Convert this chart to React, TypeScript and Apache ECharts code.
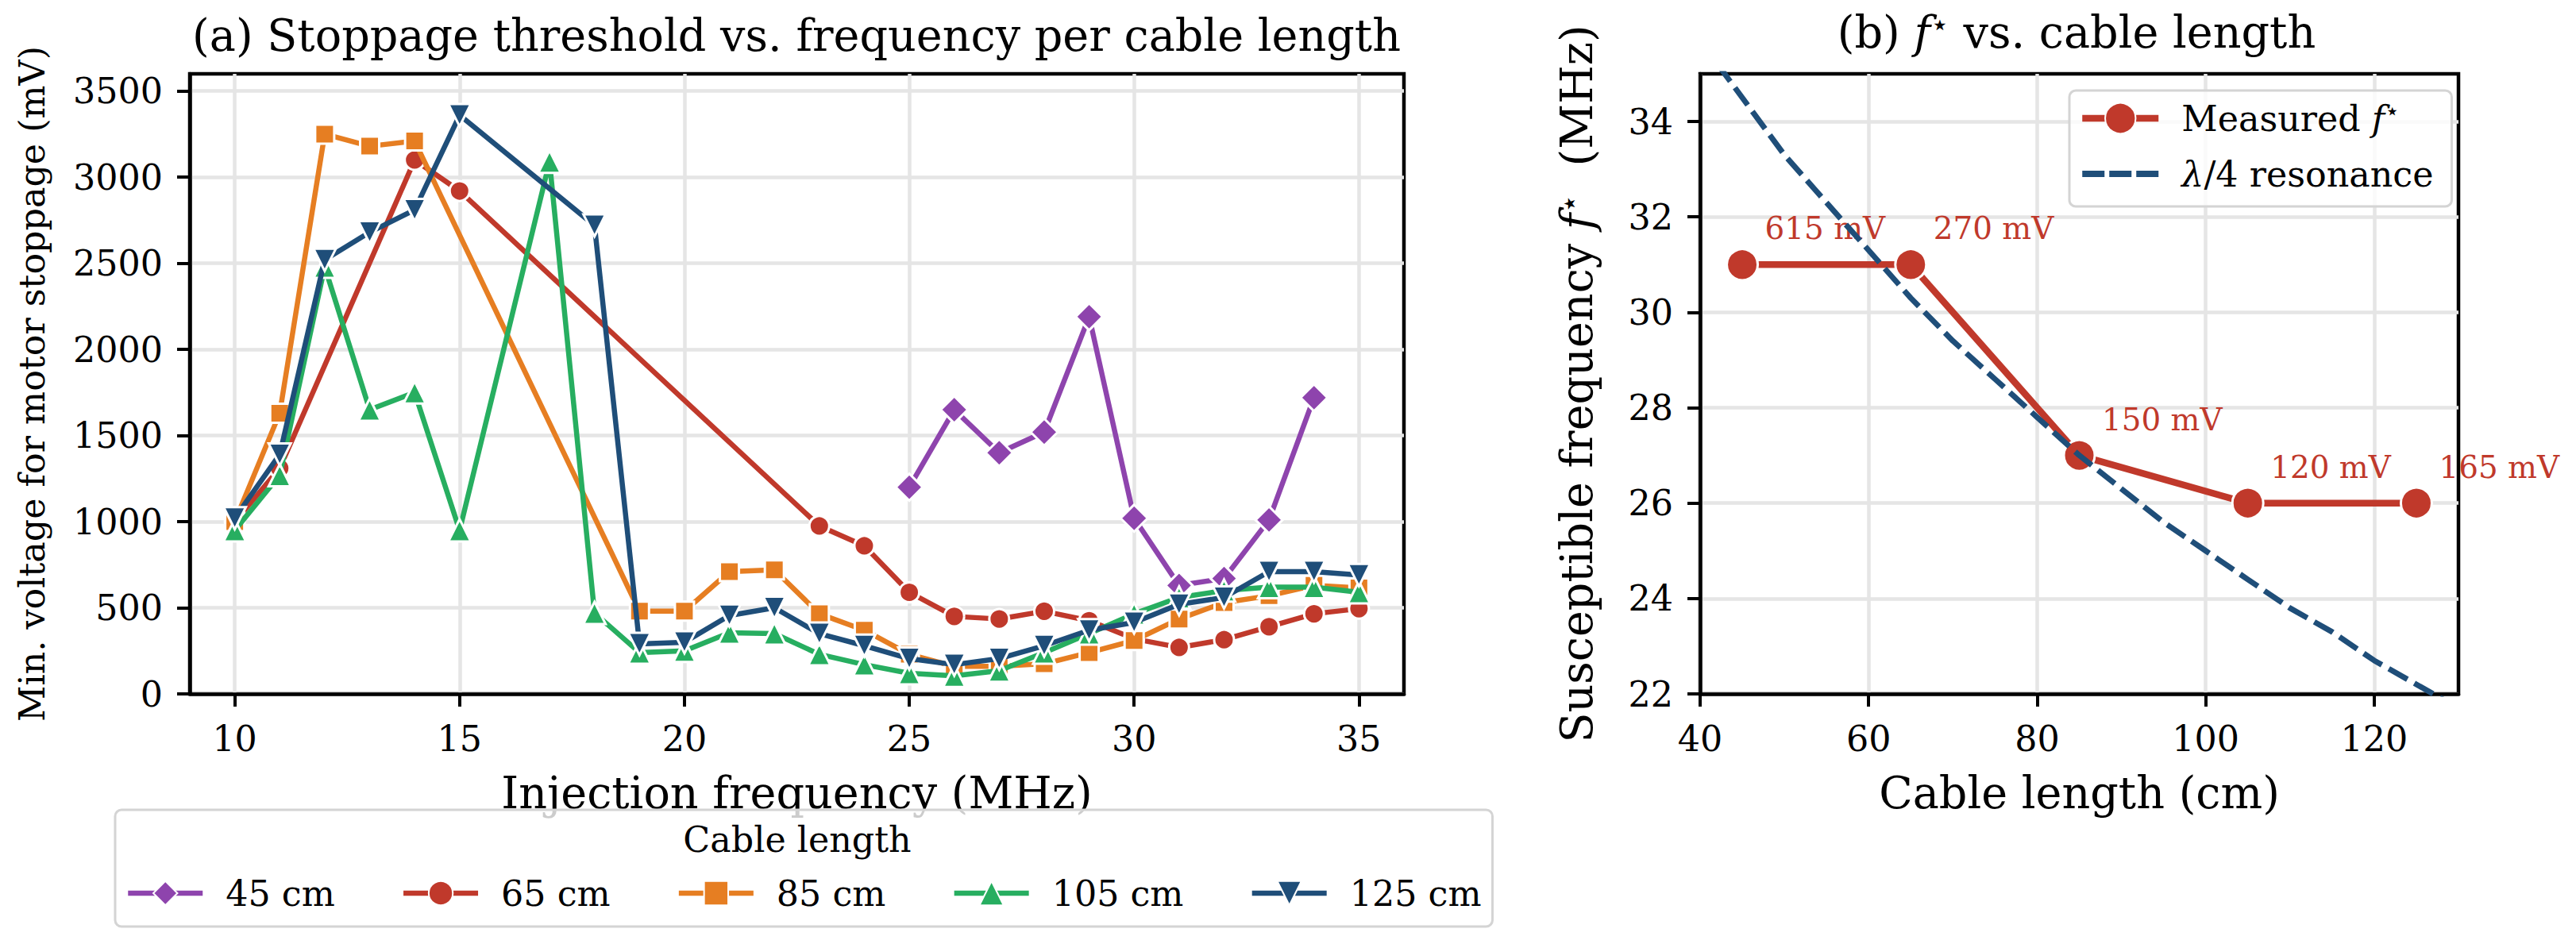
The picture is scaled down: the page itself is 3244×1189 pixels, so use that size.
import React, { useEffect, useRef } from 'react';
import * as echarts from 'echarts';

const FONT = "'DejaVu Serif', serif";
const MATH_FONT = "'DejaVu Sans', 'DejaVu Serif', sans-serif";

// ---------- Panel (a): stoppage threshold vs. injection frequency ----------
const freqMHz = [10, 11, 12, 13, 14, 15, 16, 17, 18, 19, 20, 21, 22, 23, 24, 25, 26, 27, 28, 29, 30, 31, 32, 33, 34, 35];
const cableLabels = ['45 cm', '65 cm', '85 cm', '105 cm', '125 cm'];
const n = null;
const v45cm = [n, n, n, n, n, n, n, n, n, n, n, n, n, n, n, 1200, 1650, 1400, 1520, 2190, 1020, 630, 670, 1010, 1720, n];
const v65cm = [1000, 1310, n, n, 3100, 2920, n, n, n, n, n, n, n, 975, 860, 590, 450, 435, 480, 425, 320, 270, 315, 390, 465, 495];
const v85cm = [1000, 1630, 3250, 3180, 3210, n, n, n, n, 480, 480, 710, 720, 465, 370, 230, 160, 160, 175, 240, 310, 435, 530, 570, 630, 615];
const v105cm = [950, 1270, 2480, 1650, 1750, 950, n, 3090, 470, 240, 250, 355, 350, 230, 170, 120, 105, 135, 240, 350, 465, 560, 600, 620, 620, 590];
const v125cm = [1020, 1390, 2520, 2680, 2810, 3360, n, n, 2720, 290, 300, 455, 500, 350, 280, 205, 170, 205, 280, 370, 415, 520, 560, 710, 710, 690];
const valuesByCable = [v45cm, v65cm, v85cm, v105cm, v125cm];
const cableColors = ['#8e44ad', '#c0392b', '#e67e22', '#27ae60', '#1f4e79'];
const cableSymbols = ['diamond', 'circle', 'rect', 'triangle', 'triangle'];
const cableSymbolRotate = [0, 0, 0, 0, 180];
const cableSymbolSize = [34, 25, 24, 28, 28];

const xTicksA = [10, 15, 20, 25, 30, 35];
const yTicksA = [0, 500, 1000, 1500, 2000, 2500, 3000, 3500];

// ---------- Panel (b): f* vs. cable length ----------
const lengthsCm = [45, 65, 85, 105, 125];
const fStarMHz = [31, 31, 27, 26, 26];
const thresholdMv = [615, 270, 150, 120, 165];
const resonanceLengthCm = [40, 45, 50, 55, 60, 65, 70, 75, 80, 85, 90, 95, 100, 105, 110, 115, 120, 125, 130];
const resonanceFreqMHz = [35.7, 34.5, 33.3, 32.3, 31.3, 30.3, 29.4, 28.6, 27.8, 27.0, 26.3, 25.6, 25.0, 24.4, 23.8, 23.3, 22.7, 22.2, 21.7];

const xTicksB = [40, 60, 80, 100, 120];
const yTicksB = [22, 24, 26, 28, 30, 32, 34];

const RED = '#c0392b';
const BLUE = '#1f4e79';
const TICK = 44.4;
const BIG = 55.6;

function axisBase(ticks: number[], min: number, max: number, name: string, nameGap: number, nameSize: number) {
  return {
    type: 'value',
    min,
    max,
    name,
    nameLocation: 'middle',
    nameGap,
    nameTextStyle: {
      color: '#000',
      fontFamily: FONT,
      fontSize: nameSize,
      rich: {
        i: { fontFamily: FONT, fontStyle: 'italic', fontSize: nameSize, color: '#000' },
        s: { fontFamily: MATH_FONT, fontSize: 38, color: '#000', verticalAlign: 'top' },
      },
    },
    axisLine: { show: true, onZero: false, lineStyle: { color: '#000', width: 4.5 } },
    axisTick: { show: true, length: 16, customValues: ticks, lineStyle: { color: '#000', width: 4 } },
    axisLabel: {
      show: true,
      customValues: ticks,
      color: '#000',
      fontFamily: FONT,
      fontSize: TICK,
      margin: 34,
      formatter: (v: number) => String(v),
    },
    splitLine: { show: true, lineStyle: { color: '#e5e5e5', width: 4.5 } },
  };
}

export default function App() {
  const ref = useRef<HTMLDivElement>(null);

  useEffect(() => {
    if (!ref.current) return;
    const chart = echarts.init(ref.current, undefined, { renderer: 'svg' });

    const seriesA = cableLabels.map((name, i) => ({
      type: 'line',
      name,
      xAxisIndex: 0,
      yAxisIndex: 0,
      data: freqMHz
        .map((f, j) => [f, valuesByCable[i][j]])
        .filter((d) => d[1] !== null),
      symbol: cableSymbols[i],
      symbolRotate: cableSymbolRotate[i],
      symbolSize: cableSymbolSize[i],
      showAllSymbol: true,
      lineStyle: { color: cableColors[i], width: 6.5 },
      itemStyle: { color: cableColors[i], borderColor: '#ffffff', borderWidth: 3 },
      z: 2 + i * 0.01,
    }));

    const measured = {
      type: 'line',
      name: 'Measured',
      xAxisIndex: 1,
      yAxisIndex: 1,
      data: lengthsCm.map((L, i) => [L, fStarMHz[i], thresholdMv[i]]),
      symbol: 'circle',
      symbolSize: 39,
      lineStyle: { color: RED, width: 8.5 },
      itemStyle: { color: RED, borderColor: '#ffffff', borderWidth: 3 },
      label: {
        show: true,
        formatter: (p: any) => `${p.value[2]} mV`,
        position: [19.5 + 30, 19.5 - 44],
        align: 'left',
        verticalAlign: 'middle',
        color: RED,
        fontFamily: FONT,
        fontSize: 38.9,
      },
      z: 3,
    };

    const resonance = {
      type: 'line',
      name: 'resonance',
      xAxisIndex: 1,
      yAxisIndex: 1,
      data: resonanceLengthCm.map((L, i) => [L, resonanceFreqMHz[i]]),
      symbol: 'none',
      smooth: false,
      clip: true,
      lineStyle: { color: BLUE, width: 7, type: [27, 10] },
      itemStyle: { color: BLUE },
      z: 4,
    };

    const option = {
      animation: false,
      backgroundColor: '#ffffff',
      grid: [
        { left: 239, top: 93, width: 1529, height: 781, show: true, borderColor: '#000', borderWidth: 4.5, backgroundColor: 'transparent' },
        { left: 2141, top: 93, width: 955, height: 781, show: true, borderColor: '#000', borderWidth: 4.5, backgroundColor: 'transparent' },
      ],
      xAxis: [
        { ...axisBase(xTicksA, 9, 36, 'Injection frequency (MHz)', 96, BIG), gridIndex: 0 },
        { ...axisBase(xTicksB, 40, 130, 'Cable length (cm)', 96, BIG), gridIndex: 1 },
      ],
      yAxis: [
        { ...axisBase(yTicksA, 0, 3600, 'Min. voltage for motor stoppage (mV)', 177, TICK), gridIndex: 0 },
        {
          ...axisBase(yTicksB, 22, 35, 'Susceptible frequency {i|f}{s|⋆}  (MHz)', 128, BIG),
          gridIndex: 1,
        },
      ],
      legend: [
        {
          data: cableLabels,
          orient: 'horizontal',
          left: 145,
          top: 1020,
          itemWidth: 94,
          itemHeight: 38,
          itemGap: 83,
          padding: [80, 14, 17, 13],
          backgroundColor: 'rgba(255,255,255,0.8)',
          borderColor: '#d4d4d4',
          borderWidth: 3,
          borderRadius: 8,
          selectedMode: false,
          lineStyle: { width: 6.5 },
          textStyle: { color: '#000', fontFamily: FONT, fontSize: TICK, lineHeight: 50, padding: [0, 0, 0, 24] },
          z: 10,
        },
        {
          data: [
            { name: 'Measured' },
            { name: 'resonance', icon: 'path://M0,0h28v8h-28zM34,0h28v8h-28zM68,0h28v8h-28z' },
          ],
          orient: 'vertical',
          left: 2606,
          top: 114,
          itemWidth: 96,
          itemHeight: 48,
          itemGap: 20,
          padding: [10, 23, 16, 12],
          backgroundColor: 'rgba(255,255,255,0.8)',
          borderColor: '#d4d4d4',
          borderWidth: 3,
          borderRadius: 8,
          selectedMode: false,
          lineStyle: { width: 8.5 },
          formatter: (name: string) =>
            name === 'Measured' ? '{t|Measured }{i|f}{s|⋆}' : '{i|λ}{t|/4 resonance}',
          textStyle: {
            color: '#000',
            fontFamily: FONT,
            fontSize: TICK,
            lineHeight: 50,
            padding: [0, 0, 0, 24],
            rich: {
              t: { fontFamily: FONT, fontSize: TICK, color: '#000', lineHeight: 50 },
              i: { fontFamily: FONT, fontStyle: 'italic', fontSize: TICK, color: '#000', lineHeight: 50 },
              s: { fontFamily: MATH_FONT, fontSize: 30, color: '#000', verticalAlign: 'top', lineHeight: 30 },
            },
          },
          z: 10,
        },
      ],
      graphic: [
        {
          type: 'text',
          x: 1003,
          y: 44,
          style: {
            text: '(a) Stoppage threshold vs. frequency per cable length',
            fontFamily: FONT,
            fontSize: BIG,
            fill: '#000',
            align: 'center',
            verticalAlign: 'middle',
          },
        },
        {
          type: 'text',
          x: 2615,
          y: 40,
          style: {
            text: '{n|(b) }{i|f}{s|⋆}{n| vs. cable length}',
            fontFamily: FONT,
            fontSize: BIG,
            fill: '#000',
            align: 'center',
            verticalAlign: 'middle',
            rich: {
              n: { fontFamily: FONT, fontSize: BIG, fill: '#000' },
              i: { fontFamily: FONT, fontStyle: 'italic', fontSize: BIG, fill: '#000' },
              s: { fontFamily: MATH_FONT, fontSize: 38, fill: '#000', verticalAlign: 'top' },
            },
          },
        },
        {
          type: 'text',
          x: 1004,
          y: 1057,
          z: 20,
          style: {
            text: 'Cable length',
            fontFamily: FONT,
            fontSize: TICK,
            fill: '#000',
            align: 'center',
            verticalAlign: 'middle',
          },
        },
      ],
      series: [...seriesA, measured, resonance],
    };

    chart.setOption(option as any);
    return () => chart.dispose();
  }, []);

  return (
    <div
      ref={ref}
      style={{ position: 'fixed', left: 0, top: 0, width: 3244, height: 1189, background: '#fff' }}
    />
  );
}
